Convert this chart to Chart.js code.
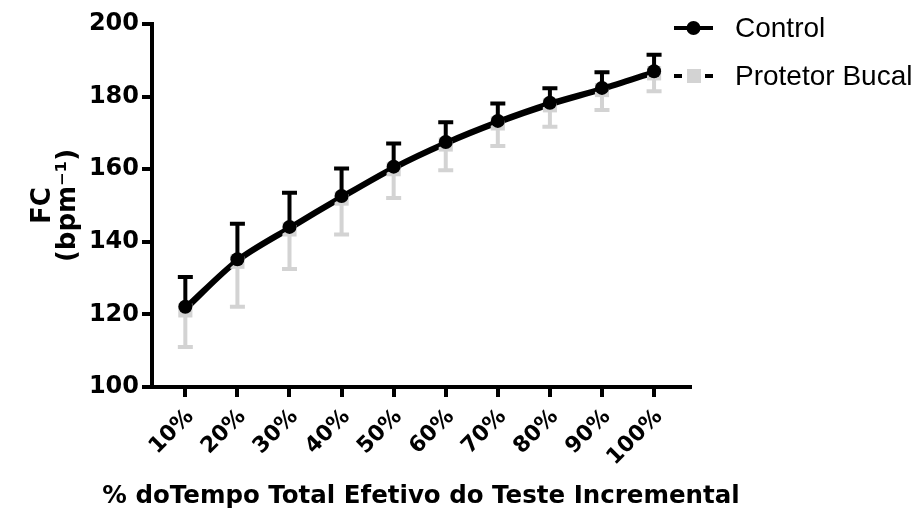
<!DOCTYPE html>
<html>
<head>
<meta charset="utf-8">
<script src="https://cdn.jsdelivr.net/npm/chart.js@4.4.1/dist/chart.umd.min.js"></script>
<style>
  body { margin: 0; background: #fff; }
  #wrap { width: 922px; height: 522px; position: relative; }
</style>
</head>
<body>
<div id="wrap"><canvas id="fc"></canvas></div>
<script>
const categories = ['10%', '20%', '30%', '40%', '50%', '60%', '70%', '80%', '90%', '100%'];
const controlMean = [122.1, 135.2, 144.1, 152.6, 160.7, 167.5, 173.3, 178.3, 182.4, 187.0];
const controlSD = [8.2, 9.8, 9.4, 7.6, 6.4, 5.4, 4.8, 4.0, 4.3, 4.5];
const protetorMean = [121.1, 134.5, 143.4, 151.9, 160.0, 166.8, 172.6, 177.6, 181.8, 186.4];
const protetorSD = [10.1, 12.4, 10.9, 9.9, 7.9, 7.1, 6.2, 5.9, 5.5, 4.9];
const yTicks = [100, 120, 140, 160, 180, 200];
const xTitle = '% doTempo Total Efetivo do Teste Incremental';

const xValues = categories.map(c => parseFloat(c));
const grey = '#d3d3d3';
const boldFont = 'DejaVu Sans';

// error bars: control goes up, protetor goes down
const errorBars = {
    id: 'errorBars',
    beforeDatasetsDraw(chart) {
        const ctx = chart.ctx;
        const xs = chart.scales.x, ys = chart.scales.y;
        chart.data.datasets.forEach(ds => {
            ctx.save();
            ctx.strokeStyle = ds.barColor;
            ctx.lineWidth = 4;
            ds.data.forEach((p, i) => {
                const x = xs.getPixelForValue(p.x);
                const y0 = ys.getPixelForValue(p.y);
                const y1 = ys.getPixelForValue(p.y + ds.dir * ds.sd[i]);
                ctx.beginPath();
                ctx.moveTo(x, y0);
                ctx.lineTo(x, y1);
                ctx.moveTo(x - 7.5, y1);
                ctx.lineTo(x + 7.5, y1);
                ctx.stroke();
            });
            ctx.restore();
        });
    }
};

// legend + x axis title (chart.js squeezes long titles to the axis width)
const legendBox = {
    id: 'legendBox',
    afterDraw(chart) {
        const ctx = chart.ctx;
        const area = chart.chartArea;
        ctx.save();
        ctx.strokeStyle = '#000';
        ctx.lineWidth = 4;
        // Control
        ctx.beginPath();
        ctx.moveTo(674, 28); ctx.lineTo(713, 28);
        ctx.stroke();
        ctx.fillStyle = '#000';
        ctx.beginPath();
        ctx.arc(693.5, 28, 7, 0, Math.PI * 2);
        ctx.fill();
        // Protetor Bucal
        ctx.beginPath();
        ctx.moveTo(674, 76); ctx.lineTo(682, 76);
        ctx.moveTo(705, 76); ctx.lineTo(713, 76);
        ctx.stroke();
        ctx.fillStyle = grey;
        ctx.fillRect(687, 69, 14, 14);

        ctx.fillStyle = '#000';
        ctx.font = '28px "Liberation Sans"';
        ctx.textBaseline = 'alphabetic';
        ctx.fillText(chart.data.datasets[0].label, 735, 37);
        ctx.fillText(chart.data.datasets[1].label, 735, 85);

        ctx.font = 'bold 24.5px "DejaVu Sans"';
        ctx.textAlign = 'center';
        ctx.textBaseline = 'middle';
        ctx.fillText(xTitle, (area.left + area.right) / 2, 497);
        ctx.restore();
    }
};

const chart = new Chart(document.getElementById('fc').getContext('2d'), {
    type: 'line',
    data: {
        datasets: [{
            label: 'Control',
            data: xValues.map((x, i) => ({x: x, y: controlMean[i]})),
            sd: controlSD,
            dir: 1,
            barColor: '#000',
            borderColor: '#000',
            backgroundColor: '#000',
            borderWidth: 4,
            pointRadius: 7,
            pointBorderWidth: 0,
            pointBackgroundColor: '#000',
            tension: 0.3
        }, {
            label: 'Protetor Bucal',
            data: xValues.map((x, i) => ({x: x, y: protetorMean[i]})),
            sd: protetorSD,
            dir: -1,
            barColor: grey,
            borderColor: '#000',
            backgroundColor: grey,
            borderWidth: 4,
            pointStyle: 'rect',
            pointRadius: 10,
            pointBorderWidth: 0,
            pointBackgroundColor: grey,
            tension: 0.3
        }]
    },
    options: {
        responsive: true,
        maintainAspectRatio: false,
        animation: false,
        layout: {
            padding: {top: 24, right: 232, left: 0, bottom: 0}
        },
        scales: {
            x: {
                type: 'linear',
                min: 3.6,
                max: 106.9,
                afterBuildTicks: s => { s.ticks = xValues.map(v => ({value: v})); },
                afterFit: s => { s.height = 135; },
                grid: {display: true, drawOnChartArea: false, drawTicks: true, tickLength: 10, color: '#000', lineWidth: 4},
                border: {display: true, color: '#000', width: 4},
                ticks: {
                    color: '#000',
                    font: {family: boldFont, size: 22, weight: 'bold'},
                    minRotation: 45,
                    maxRotation: 45,
                    padding: 7,
                    labelOffset: 5,
                    callback: (v, i) => categories[i]
                },
                title: {display: false}
            },
            y: {
                min: 100,
                max: 200,
                afterBuildTicks: s => { s.ticks = yTicks.map(v => ({value: v})); },
                afterFit: s => { s.width = 152; },
                grid: {display: true, drawOnChartArea: false, drawTicks: true, tickLength: 10, color: '#000', lineWidth: 4},
                border: {display: true, color: '#000', width: 4},
                ticks: {
                    color: '#000',
                    font: {family: boldFont, size: 24, weight: 'bold'},
                    padding: 3
                },
                title: {
                    display: true,
                    text: ['FC', '(bpm\u207B\u00B9)'],
                    color: '#000',
                    font: {family: boldFont, size: 26, weight: 'bold', lineHeight: 0.96},
                    padding: {top: 31, bottom: 0}
                }
            }
        },
        plugins: {
            legend: {display: false},
            tooltip: {enabled: false}
        }
    },
    plugins: [errorBars, legendBox]
});
</script>
</body>
</html>
